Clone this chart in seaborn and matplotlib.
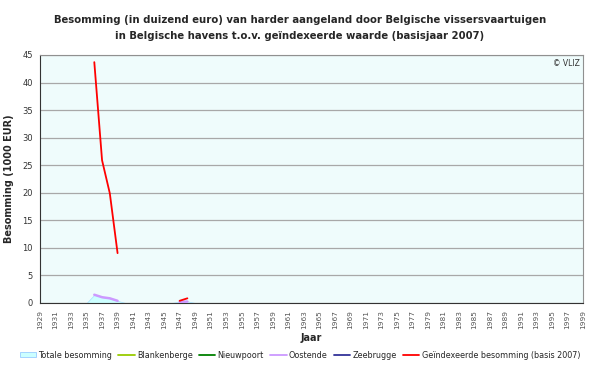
import numpy as np
import pandas as pd
import matplotlib
matplotlib.use("Agg")
import matplotlib.pyplot as plt
from matplotlib.lines import Line2D
from matplotlib.patches import Patch
import seaborn as sns

nan = np.nan
years = list(range(1929, 2000))

# values keyed by year (all other years blank)
totale_vals = {1936: 1.5, 1937: 1.05, 1938: 0.85, 1939: 0.4, 1947: 0.25, 1948: 0.3}
blankenberge_vals = {}
nieuwpoort_vals = {}
oostende_vals = {1936: 1.5, 1937: 1.05, 1938: 0.85, 1939: 0.4, 1947: 0.2, 1948: 0.25}
zeebrugge_vals = {}
geindex_vals = {1936: 43.7, 1937: 25.9, 1938: 19.9, 1939: 9.05, 1947: 0.4, 1948: 0.85}

series_names = ["Blankenberge", "Nieuwpoort", "Oostende", "Zeebrugge",
                "Geïndexeerde besomming (basis 2007)"]
series_vals = [blankenberge_vals, nieuwpoort_vals, oostende_vals, zeebrugge_vals, geindex_vals]
series_colors = ["#99CC00", "#008000", "#CC99FF", "#333399", "#FF0000"]
series_widths = [1.3, 1.3, 1.8, 1.3, 1.3]

title = ("Besomming (in duizend euro) van harder aangeland door Belgische vissersvaartuigen\n"
         "in Belgische havens t.o.v. geïndexeerde waarde (basisjaar 2007)")

sns.set_style("white")
plt.rcParams['font.family'] = ['DejaVu Sans']

fig = plt.figure(figsize=(6.0, 3.68), dpi=100)
ax = fig.add_axes([40/600, 1-303/368, (583-40)/600, (303-55)/368])
ax.set_facecolor("#EFFCFC")

# area: blanks count as zero
tot = np.array([totale_vals.get(y, 0.0) for y in years])
ax.fill_between(years, 0, tot, color="#CCFFFF", edgecolor="#A8E0FF", linewidth=0.5, zorder=2)

for name, vals, col, lw in zip(series_names, series_vals, series_colors, series_widths):
    ys = [vals.get(y, nan) for y in years]
    df = pd.DataFrame({"Jaar": years, "v": ys})
    # split into contiguous runs so gaps stay gaps
    df["run"] = df["v"].isna().cumsum()
    df = df.dropna()
    if df.empty:
        continue
    sns.lineplot(data=df, x="Jaar", y="v", units="run", estimator=None, color=col,
                 linewidth=lw, ax=ax, legend=False, zorder=3)

ax.set_xlim(1929, 1999)
ax.set_ylim(0, 45)
ax.set_yticks(np.arange(0, 46, 5))
ax.set_yticklabels([str(v) for v in range(0, 46, 5)], fontsize=6, color="#333333")
ax.set_xticks(years)
ax.set_xticklabels([str(y) if (y - 1929) % 2 == 0 else "" for y in years],
                   rotation=90, fontsize=5.3, color="#555555")
ax.tick_params(axis='both', direction='out', length=3, width=0.6, color="#333333", pad=2)
ax.yaxis.grid(True, color="#A8A8A8", linewidth=0.9)
ax.set_axisbelow(True)
for s in ["top", "right"]:
    ax.spines[s].set_color("#909090")
    ax.spines[s].set_linewidth(0.8)
for s in ["left", "bottom"]:
    ax.spines[s].set_color("#333333")
    ax.spines[s].set_linewidth(0.8)

ax.set_xlabel("Jaar", fontsize=7, fontweight="bold", labelpad=3)
ax.set_ylabel("Besomming (1000 EUR)", fontsize=7, fontweight="bold", labelpad=6)
ax.text(0.995, 0.985, "© VLIZ", transform=ax.transAxes, ha="right", va="top", fontsize=5.5, color="#333333")

fig.text(0.5, 1 - 28/368, title, ha="center", va="center", fontsize=7.3, fontweight="bold",
         linespacing=1.75)

handles = [Patch(facecolor="#CCFFFF", edgecolor="#99CCFF", linewidth=0.6)]
labels = ["Totale besomming"]
for name, col in zip(series_names, series_colors):
    handles.append(Line2D([0], [0], color=col, linewidth=1.3))
    labels.append(name)
fig.legend(handles, labels, loc="center", bbox_to_anchor=(0.5, 1 - 355/368), ncol=6,
           frameon=False, fontsize=5.8, handlelength=2.0, handletextpad=0.3, columnspacing=0.8,
           handleheight=0.6)

fig.savefig("out.png", dpi=100)
